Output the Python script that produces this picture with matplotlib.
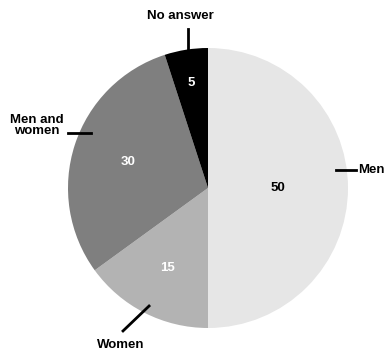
import numpy as np
import matplotlib.pyplot as plt

# Réponses au questionnaire (en %)
categories = ["Men", "Women", "Men and\nwomen", "No answer"]
values = [50, 15, 30, 5]
colors = ["#e6e6e6", "#b3b3b3", "#7f7f7f", "#000000"]
value_colors = ["black", "white", "white", "white"]

plt.rcParams['font.family'] = ['Liberation Sans', 'DejaVu Sans']

fig = plt.figure(figsize=(3.84, 3.51), dpi=100)
# le camembert : centre (208, 188) px, rayon 140 px
ax = fig.add_axes([68 / 384, (351 - 188 - 140) / 351, 280 / 384, 280 / 351])
ax.pie(values, colors=colors, startangle=90, counterclock=False, radius=1,
       wedgeprops=dict(linewidth=0))
ax.set_xlim(-1, 1)
ax.set_ylim(-1, 1)
ax.set_aspect('equal')
ax.axis('off')

# valeurs au milieu de chaque part
value_r = [0.5, 0.64, 0.6, 0.76]
cum = np.cumsum([0] + values)
for i, v in enumerate(values):
    ang = np.deg2rad(90 - 360 * (cum[i] + v / 2) / sum(values))
    ax.text(value_r[i] * np.cos(ang), value_r[i] * np.sin(ang), str(v),
            ha='center', va='center', fontsize=9.5, fontweight='bold',
            color=value_colors[i])

# étiquettes avec traits de rappel
lines = [((0.914, 1.057), (0.129, 0.129)),
         ((-0.607, -0.421), (-1.021, -0.843)),
         ((-1.0, -0.836), (0.393, 0.393)),
         ((-0.143, -0.143), (1.136, 0.971))]
label_pos = [(1.071, 0.129, 'left'), (-0.621, -1.121, 'center'),
             (-1.221, 0.446, 'center'), (-0.2, 1.229, 'center')]
for cat, (lx, ly), (tx, ty, ha) in zip(categories, lines, label_pos):
    ax.plot(lx, ly, color='black', lw=2, clip_on=False)
    ax.text(tx, ty, cat, ha=ha, va='center', fontsize=9.5, fontweight='bold',
            linespacing=0.95, clip_on=False)

plt.savefig("out.png", dpi=100)
